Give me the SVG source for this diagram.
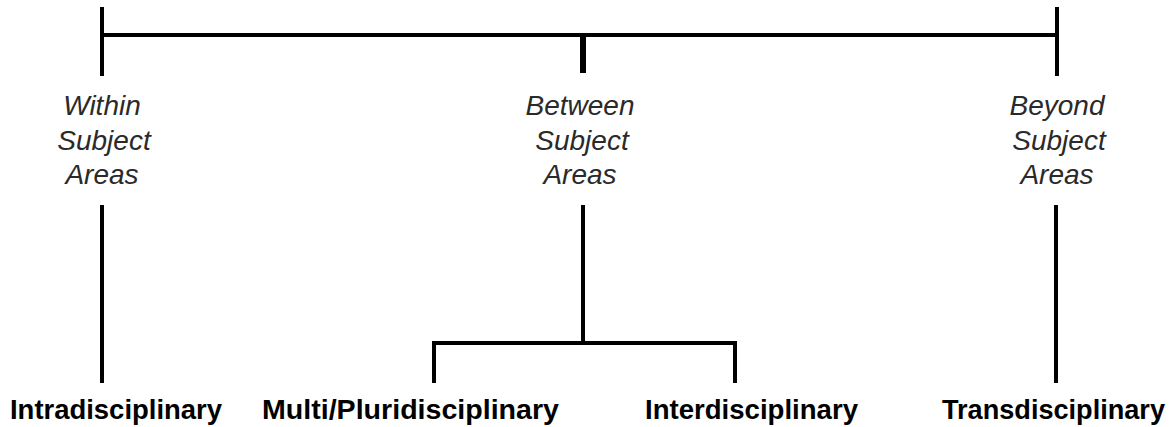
<svg xmlns="http://www.w3.org/2000/svg" width="1172" height="427" viewBox="0 0 1172 427">
<style>
.ln{stroke:#000;stroke-width:4;fill:none;stroke-linecap:butt}
.cat{font-family:"Liberation Sans",Arial,sans-serif;font-style:italic;font-size:28px;fill:#2a2a2a;text-anchor:middle}
.lab{font-family:"Liberation Sans",Arial,sans-serif;font-weight:bold;font-size:28px;fill:#000}
</style>
<rect width="1172" height="427" fill="#fff"/>
<g id="connectors">
<path class="ln" d="M102 7V76M102 35H1057M1057 7V76"/>
<path class="ln" d="M583 35V73" style="stroke-width:6"/>
<path class="ln" d="M102 205V383"/>
<path class="ln" d="M583 205V343M434 343H735M434 341V383M735 341V383"/>
<path class="ln" d="M1056 205V383"/>
</g>
<g id="within">
<text class="cat" x="102" y="115">Within</text>
<text class="cat" x="104" y="150">Subject</text>
<text class="cat" x="102" y="184">Areas</text>
</g>
<g id="between">
<text class="cat" x="580" y="115">Between</text>
<text class="cat" x="582" y="150">Subject</text>
<text class="cat" x="580" y="184">Areas</text>
</g>
<g id="beyond">
<text class="cat" x="1057" y="115">Beyond</text>
<text class="cat" x="1059" y="150">Subject</text>
<text class="cat" x="1057" y="184">Areas</text>
</g>
<g id="intra"><text class="lab" x="10" y="419" textLength="212" lengthAdjust="spacingAndGlyphs">Intradisciplinary</text></g>
<g id="multi"><text class="lab" x="262" y="419" textLength="297" lengthAdjust="spacingAndGlyphs">Multi/Pluridisciplinary</text></g>
<g id="inter"><text class="lab" x="645" y="419" textLength="213" lengthAdjust="spacingAndGlyphs">Interdisciplinary</text></g>
<g id="trans"><text class="lab" x="942" y="419" textLength="223" lengthAdjust="spacingAndGlyphs">Transdisciplinary</text></g>
</svg>
